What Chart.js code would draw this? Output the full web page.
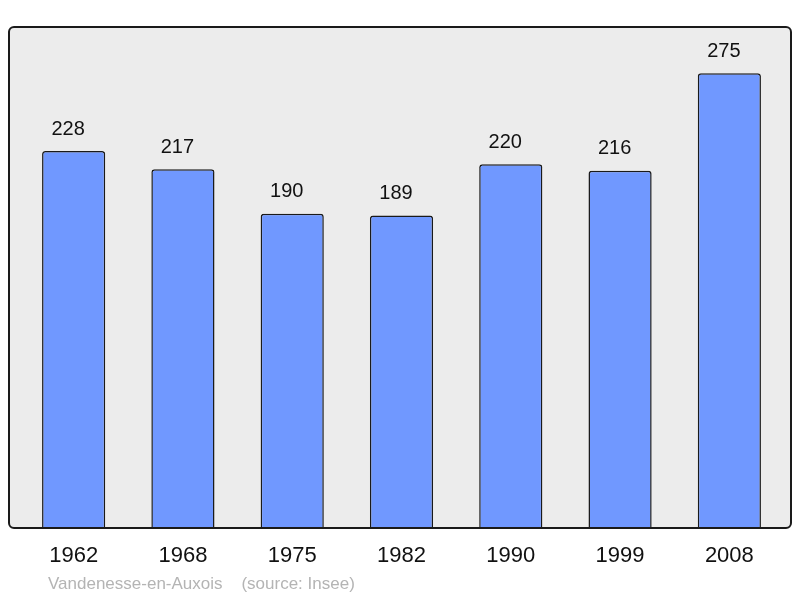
<!DOCTYPE html>
<html>
<head>
<meta charset="utf-8">
<script src="https://cdn.jsdelivr.net/npm/chart.js@4/dist/chart.umd.min.js"></script>
<style>
html,body{margin:0;padding:0;background:#fff;}
#wrap{width:800px;height:598px;}
</style>
</head>
<body>
<div id="wrap"><canvas id="c" width="800" height="598"></canvas></div>
<script>
const years = ["1962","1968","1975","1982","1990","1999","2008"];
const population = [228,217,190,189,220,216,275];
const footerText = "Vandenesse-en-Auxois    (source: Insee)";

const framePlugin = {
  id: 'frame',
  beforeDraw(chart){
    const ctx = chart.ctx;
    ctx.save();
    ctx.fillStyle = '#fff';
    ctx.fillRect(0,0,chart.width,chart.height);
    ctx.beginPath();
    ctx.roundRect(9,27,782,501,5);
    ctx.fillStyle = '#ececec';
    ctx.fill();
    ctx.restore();
  },
  afterDraw(chart){
    const ctx = chart.ctx;
    const xs = chart.scales.x;
    const meta = chart.getDatasetMeta(0);
    ctx.save();
    ctx.beginPath();
    ctx.roundRect(9,27,782,501,5);
    ctx.lineWidth = 2;
    ctx.strokeStyle = '#1a1a1a';
    ctx.stroke();
    ctx.fillStyle = '#111';
    ctx.textAlign = 'center';
    ctx.textBaseline = 'middle';
    ctx.font = '20px "Liberation Sans", Arial, sans-serif';
    meta.data.forEach((bar,i)=>{
      ctx.fillText(String(population[i]), bar.x - 5.5, bar.y - 22);
    });
    ctx.font = '22px "Liberation Sans", Arial, sans-serif';
    years.forEach((y,i)=>{
      ctx.fillText(y, xs.getPixelForValue(i), 556);
    });
    ctx.fillStyle = '#b4b4b4';
    ctx.textAlign = 'left';
    ctx.font = '17px "Liberation Sans", Arial, sans-serif';
    ctx.fillText(footerText, 48, 584);
    ctx.restore();
  }
};

new Chart(document.getElementById('c'), {
  type: 'bar',
  data: {
    labels: years,
    datasets: [{
      data: population,
      backgroundColor: '#7098ff',
      borderColor: '#1a1a1a',
      borderWidth: 1.5,
      borderRadius: 3,
      borderSkipped: 'bottom',
      barPercentage: 0.578,
      categoryPercentage: 1
    }]
  },
  options: {
    responsive: false,
    animation: false,
    devicePixelRatio: 1,
    layout: { padding: { left: 19, right: 16, top: 27, bottom: 70 } },
    plugins: { legend: { display: false }, tooltip: { enabled: false } },
    scales: {
      x: { display: false, offset: true },
      y: { display: false, min: 0, max: 303 }
    }
  },
  plugins: [framePlugin]
});
</script>
</body>
</html>
